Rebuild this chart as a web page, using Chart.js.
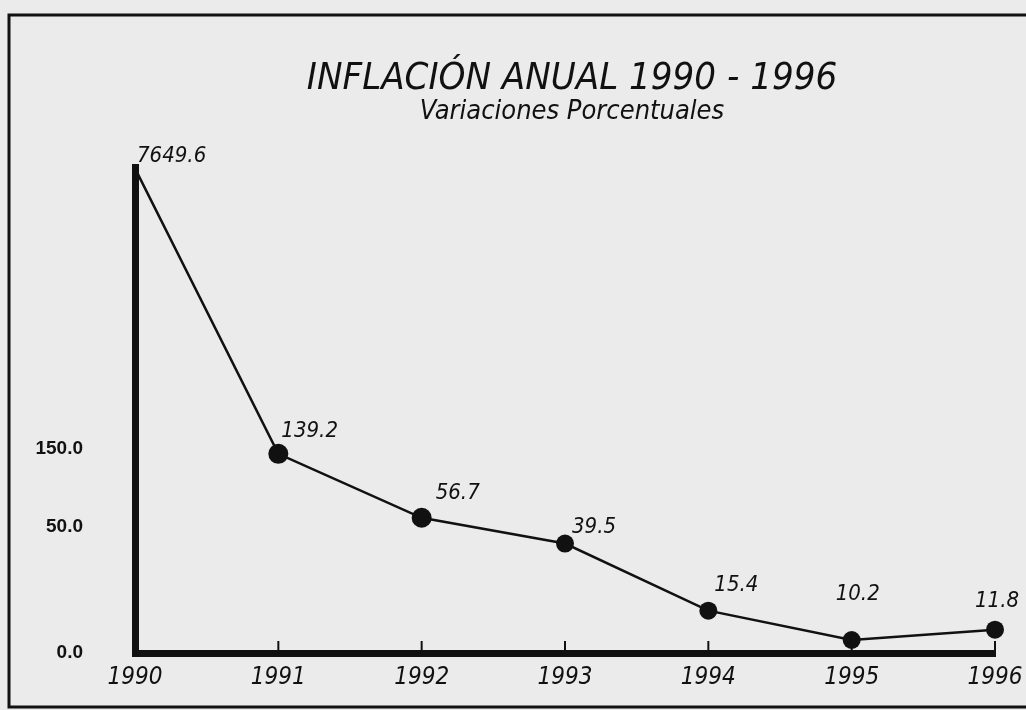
<!DOCTYPE html>
<html><head><meta charset="utf-8">
<script src="https://cdn.jsdelivr.net/npm/chart.js@4.4.1/dist/chart.umd.min.js"></script>
<style>html,body{margin:0;padding:0;background:#ebebeb;}canvas{display:block;}</style>
</head><body>
<canvas id="c" width="1026" height="710"></canvas>
<script>
// ---- data ----
const years = ['1990', '1991', '1992', '1993', '1994', '1995', '1996'];
const inflation = [7649.6, 139.2, 56.7, 39.5, 15.4, 10.2, 11.8];
const valueLabels = ['7649.6', '139.2', '56.7', '39.5', '15.4', '10.2', '11.8'];
const yTickValues = [8.5, 50, 150];
const yTickLabels = ['0.0', '50.0', '150.0'];
const titleText = 'INFLACIÓN ANUAL 1990 - 1996';
const subtitleText = 'Variaciones Porcentuales';

// ---- styling / placement ----
const labelOffsets = [[2, -12], [3, -23], [14, -25], [7, -16], [6, -25], [-16, -46], [-20, -28]];
const pointSizes = [0, 10, 10, 9, 9, 9, 9];
const NARROW = "'Liberation Sans Narrow','DejaVu Sans Condensed','Roboto Condensed','Arial Narrow',sans-serif";

const framePlugin = {
  id: 'frame',
  beforeDraw(chart) {
    const ctx = chart.ctx;
    ctx.save();
    ctx.fillStyle = '#ebebeb';
    ctx.fillRect(0, 0, chart.width, chart.height);
    ctx.strokeStyle = '#111';
    ctx.lineWidth = 3;
    ctx.strokeRect(9, 15, chart.width + 20, 692);
    ctx.restore();
  }
};

const titlePlugin = {
  id: 'titles',
  afterDraw(chart) {
    const ctx = chart.ctx;
    const cx = (chart.chartArea.left + chart.chartArea.right) / 2 + 7;
    ctx.save();
    ctx.fillStyle = '#111';
    ctx.textAlign = 'center';
    ctx.textBaseline = 'alphabetic';
    ctx.font = 'italic 38px ' + NARROW;
    ctx.fillText(titleText, cx, 89);
    ctx.font = 'italic 27px ' + NARROW;
    ctx.fillText(subtitleText, cx, 119);
    ctx.restore();
  }
};

const ticksPlugin = {
  id: 'innerTicks',
  afterDatasetsDraw(chart) {
    const ctx = chart.ctx;
    const xs = chart.scales.x;
    const bottom = chart.chartArea.bottom;
    ctx.save();
    ctx.strokeStyle = '#111';
    ctx.lineWidth = 2;
    for (let i = 1; i < years.length; i++) {
      const x = xs.getPixelForTick(i);
      ctx.beginPath();
      ctx.moveTo(x, bottom);
      ctx.lineTo(x, bottom - 12);
      ctx.stroke();
    }
    ctx.restore();
  }
};

const valueLabelPlugin = {
  id: 'valueLabels',
  afterDatasetsDraw(chart) {
    const ctx = chart.ctx;
    const meta = chart.getDatasetMeta(0);
    ctx.save();
    ctx.fillStyle = '#111';
    ctx.font = 'italic 22px ' + NARROW;
    ctx.textAlign = 'left';
    ctx.textBaseline = 'middle';
    meta.data.forEach((pt, i) => {
      const off = labelOffsets[i];
      ctx.fillText(valueLabels[i], pt.x + off[0], pt.y + off[1]);
    });
    ctx.restore();
  }
};

new Chart(document.getElementById('c'), {
  type: 'line',
  data: {
    labels: years,
    datasets: [{
      data: inflation,
      borderColor: '#111',
      borderWidth: 2.5,
      tension: 0,
      pointRadius: pointSizes,
      pointHoverRadius: pointSizes,
      pointBackgroundColor: '#111',
      pointBorderColor: '#111',
      pointBorderWidth: 0,
      clip: false
    }]
  },
  options: {
    responsive: false,
    animation: false,
    devicePixelRatio: 1,
    layout: { padding: { top: 167, right: 31, left: 10, bottom: 0 } },
    plugins: { legend: { display: false }, tooltip: { enabled: false }, title: { display: false } },
    scales: {
      x: {
        type: 'category',
        offset: false,
        grid: { display: true, color: 'rgba(0,0,0,0)', drawOnChartArea: false, drawTicks: true, tickLength: 10 },
        border: { display: true, color: '#111', width: 7 },
        ticks: {
          color: '#111',
          padding: 0,
          maxRotation: 0,
          autoSkip: false,
          font: { family: NARROW, size: 24, style: 'italic' }
        },
        afterFit(s) { s.height = 57; }
      },
      y: {
        type: 'logarithmic',
        min: 8.5,
        max: 7800,
        grid: { display: true, color: 'rgba(0,0,0,0)', drawOnChartArea: false, drawTicks: true, tickLength: 52 },
        border: { display: true, color: '#111', width: 7 },
        afterBuildTicks(s) { s.ticks = yTickValues.map(v => ({ value: v })); },
        ticks: {
          color: '#111',
          padding: 0,
          font: { family: "'Liberation Sans', Arial, sans-serif", size: 19, weight: 'bold' },
          callback(value) {
            const i = yTickValues.indexOf(value);
            return i >= 0 ? yTickLabels[i] : '';
          }
        },
        afterFit(s) { s.width = 125; }
      }
    }
  },
  plugins: [framePlugin, titlePlugin, ticksPlugin, valueLabelPlugin]
});
</script>
</body></html>
